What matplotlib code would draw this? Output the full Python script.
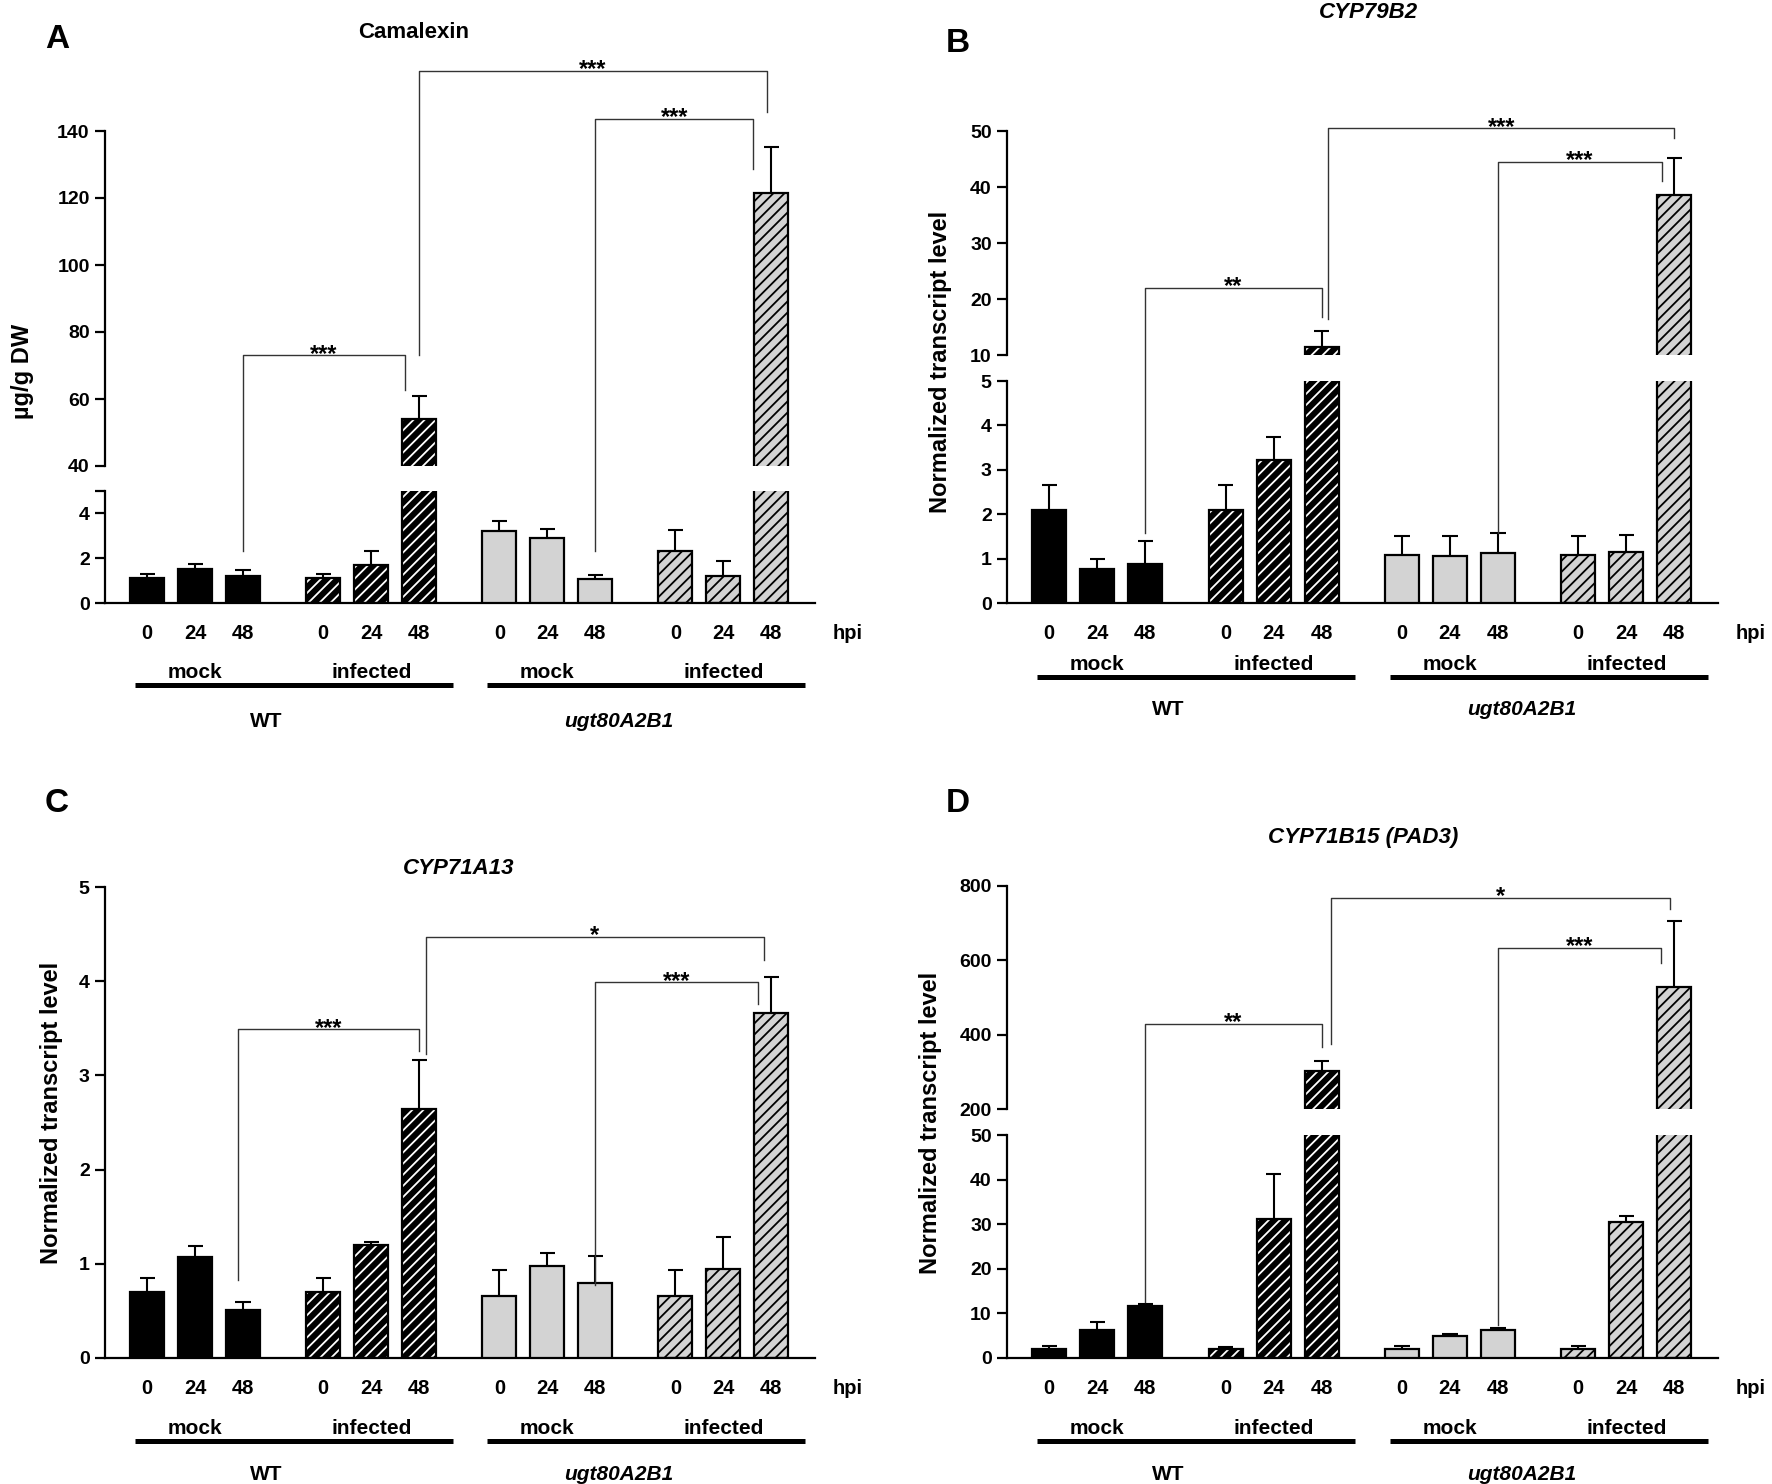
import matplotlib
matplotlib.use('Agg')
import matplotlib.pyplot as plt
from matplotlib.lines import Line2D
from matplotlib.transforms import offset_copy
import numpy as np

plt.rcParams['font.family'] = ['Liberation Sans', 'DejaVu Sans']
plt.rcParams['font.weight'] = 'bold'
plt.rcParams['hatch.linewidth'] = 1.3
plt.rcParams['axes.linewidth'] = 1.6

# bar order: WT mock 0/24/48, WT infected 0/24/48, ugt mock 0/24/48, ugt infected 0/24/48
hours = ['0', '24', '48']
treatments = ['mock', 'infected']
genotypes = ['WT', 'ugt80A2B1']

camalexin = [1.13, 1.50, 1.20, 1.10, 1.68, 53.9, 3.23, 2.90, 1.08, 2.30, 1.21, 121.6]
camalexin_sd = [0.15, 0.24, 0.27, 0.18, 0.62, 7.0, 0.43, 0.42, 0.15, 0.98, 0.66, 13.7]

cyp79b2 = [2.09, 0.76, 0.88, 2.09, 3.22, 11.5, 1.07, 1.05, 1.13, 1.07, 1.15, 38.5]
cyp79b2_sd = [0.56, 0.23, 0.51, 0.56, 0.53, 2.7, 0.43, 0.45, 0.45, 0.43, 0.39, 6.6]

cyp71a13 = [0.70, 1.07, 0.51, 0.70, 1.20, 2.64, 0.66, 0.98, 0.80, 0.66, 0.94, 3.66]
cyp71a13_sd = [0.15, 0.12, 0.08, 0.15, 0.03, 0.52, 0.27, 0.13, 0.28, 0.27, 0.34, 0.38]

pad3 = [2.1, 6.2, 11.7, 2.0, 31.1, 302, 2.1, 5.0, 6.2, 2.1, 30.6, 528]
pad3_sd = [0.6, 1.8, 0.3, 0.5, 10.2, 28, 0.5, 0.4, 0.5, 0.5, 1.3, 178]

# significance brackets: (left bar, dx, leg bottom, right bar, dx, leg bottom, top, label)
brackets_a = [(2, 0.0, 2.3, 5, -0.3, 62.7, 73, '***'),
              (5, 0.0, 73, 11, -0.1, 145.7, 158, '***'),
              (8, 0.0, 2.3, 11, -0.38, 128.7, 143.6, '***')]
brackets_b = [(2, 0.0, 1.58, 5, 0.0, 16.8, 22.0, '**'),
              (5, 0.14, 16.4, 11, 0.0, 48.75, 50.5, '***'),
              (8, 0.0, 1.58, 11, -0.26, 41.1, 44.5, '***')]
brackets_c = [(2, -0.1, 0.83, 5, 0.0, 3.26, 3.49, '***'),
              (5, 0.14, 3.23, 11, -0.16, 4.22, 4.47, '*'),
              (8, 0.0, 0.78, 11, -0.28, 3.76, 3.99, '***')]
brackets_d = [(2, 0.0, 12.5, 5, 0.0, 368, 430, '**'),
              (5, 0.2, 375, 11, -0.08, 739, 768, '*'),
              (8, 0.0, 7.5, 11, -0.28, 592, 634, '***')]

W, H = 1772, 1484
fig = plt.figure(figsize=(W / 100, H / 100), dpi=100)


def box(x0, x1, y0, y1):
    return [x0 / W, 1 - y1 / H, (x1 - x0) / W, (y1 - y0) / H]


pos = np.array([g * 3.67 + i for g in range(4) for i in range(3)])
faces = ['black', 'black', '#d3d3d3', '#d3d3d3']
hatch_cols = [None, 'white', None, 'black']
width = 0.71


def draw_bars(ax, vals, sds):
    vals = np.array(vals)
    sds = np.array(sds)
    for g in range(4):
        x = pos[3 * g:3 * g + 3]
        v = vals[3 * g:3 * g + 3]
        if hatch_cols[g]:
            ax.bar(x, v, width, color=faces[g], edgecolor=hatch_cols[g],
                   hatch='///', linewidth=0, zorder=2)
            ax.bar(x, v, width, fill=False, edgecolor='black', linewidth=1.6, zorder=3)
        else:
            ax.bar(x, v, width, color=faces[g], edgecolor='black', linewidth=1.6, zorder=3)
    ax.vlines(pos, vals, vals + sds, color='black', lw=1.5, zorder=4)
    ax.hlines(vals + sds, pos - 0.16, pos + 0.16, color='black', lw=1.5, zorder=4)


panels = [
    dict(letter='A', letter_xy=(57, 40), title='Camalexin', italic=False, title_xy=(414, 33),
         ylabel='µg/g DW', ylabel_xy=(23, 371), x0=105, x1=815,
         segs=[(131, 466, (40, 140), [40, 60, 80, 100, 120, 140], None),
               (491, 603, (0, 5), [0, 2, 4, 5], ['0', '2', '4', ''])],
         vals=camalexin, sd=camalexin_sd, brackets=brackets_a, under=(69, 82, 118)),
    dict(letter='B', letter_xy=(958, 43), title='CYP79B2', italic=True, title_xy=(1368, 13),
         ylabel='Normalized transcript level', ylabel_xy=(940, 362), x0=1007, x1=1718,
         segs=[(131, 355, (10, 50), [10, 20, 30, 40, 50], None),
               (381, 603, (0, 5), [0, 1, 2, 3, 4, 5], None)],
         vals=cyp79b2, sd=cyp79b2_sd, brackets=brackets_b, under=(61, 74, 106)),
    dict(letter='C', letter_xy=(57, 804), title='CYP71A13', italic=True, title_xy=(459, 868),
         ylabel='Normalized transcript level', ylabel_xy=(52, 1113), x0=105, x1=815,
         segs=[(887, 1358, (0, 5), [0, 1, 2, 3, 4, 5], None)],
         vals=cyp71a13, sd=cyp71a13_sd, brackets=brackets_c, under=(70, 83, 117)),
    dict(letter='D', letter_xy=(958, 804), title='CYP71B15 (PAD3)', italic=True, title_xy=(1363, 837),
         ylabel='Normalized transcript level', ylabel_xy=(931, 1123), x0=1007, x1=1718,
         segs=[(886, 1109, (200, 800), [200, 400, 600, 800], None),
               (1135, 1358, (0, 50), [0, 10, 20, 30, 40, 50], None)],
         vals=pad3, sd=pad3_sd, brackets=brackets_d, under=(70, 83, 117)),
]

to_pt = 0.72
for p in panels:
    axes = []
    nseg = len(p['segs'])
    for k, (y0, y1, ylim, ticks, labels) in enumerate(p['segs']):
        ax = fig.add_axes(box(p['x0'], p['x1'], y0, y1))
        draw_bars(ax, p['vals'], p['sd'])
        ax.set_xlim(-0.88, 13.92)
        ax.set_ylim(*ylim)
        ax.set_yticks(ticks)
        if labels is not None:
            ax.set_yticklabels(labels)
        ax.spines['top'].set_visible(False)
        ax.spines['right'].set_visible(False)
        ax.tick_params(axis='y', direction='out', length=7, width=1.6, labelsize=14, pad=4)
        if k < nseg - 1:
            ax.spines['bottom'].set_visible(False)
            ax.set_xticks([])
        axes.append(ax)

    low = axes[-1]
    low.set_xticks(pos, hours * 4)
    low.tick_params(axis='x', length=0, labelsize=14.5, pad=15)
    low.annotate('hpi', xy=(14.6, 0), xycoords=('data', 'axes fraction'),
                 xytext=(0, -15), textcoords='offset points',
                 ha='center', va='top', fontsize=14.5, annotation_clip=False)
    off_t, off_line, off_g = p['under']
    for gi in range(2):
        for ti in range(2):
            grp = gi * 2 + ti
            low.annotate(treatments[ti], xy=(pos[3 * grp + 1], 0),
                         xycoords=('data', 'axes fraction'),
                         xytext=(0, -off_t * to_pt), textcoords='offset points',
                         ha='center', va='center', fontsize=15, annotation_clip=False)
        xa = pos[6 * gi] - 0.25
        xb = pos[6 * gi + 5] + 0.7
        tr = offset_copy(low.get_xaxis_transform(), fig=fig, y=-off_line, units='dots')
        low.plot([xa, xb], [0, 0], color='black', lw=3.6, transform=tr,
                 clip_on=False, solid_capstyle='butt')
        low.annotate(genotypes[gi], xy=((pos[6 * gi] + pos[6 * gi + 5]) / 2 - 0.35, 0),
                     xycoords=('data', 'axes fraction'),
                     xytext=(0, -off_g * to_pt), textcoords='offset points',
                     ha='center', va='center', fontsize=15, annotation_clip=False,
                     style='italic' if gi == 1 else 'normal')

    inv = fig.transFigure.inverted()

    def to_fig(x, y):
        ax = axes[-1] if (len(axes) == 1 or y <= axes[-1].get_ylim()[1]) else axes[0]
        return inv.transform(ax.transData.transform((x, y)))

    for li, ldx, lb, ri, rdx, rb, top, lab in p['brackets']:
        xl = pos[li] + ldx
        xr = pos[ri] + rdx
        pts = [to_fig(xl, lb), to_fig(xl, top), to_fig(xr, top), to_fig(xr, rb)]
        ytop = pts[1][1]
        xs = [pts[0][0], pts[1][0], pts[2][0], pts[3][0]]
        ys = [pts[0][1], ytop, ytop, pts[3][1]]
        fig.add_artist(Line2D(xs, ys, transform=fig.transFigure, color='#333333', lw=1.0, zorder=10))
        fig.text((xs[1] + xs[2]) / 2, ytop + 1 / H, lab, ha='center', va='center',
                 fontsize=17, zorder=11)

    lx, ly = p['letter_xy']
    fig.text(lx / W, 1 - ly / H, p['letter'], ha='center', va='center', fontsize=24)
    tx, ty = p['title_xy']
    fig.text(tx / W, 1 - ty / H, p['title'], ha='center', va='center', fontsize=16,
             style='italic' if p['italic'] else 'normal')
    yx, yy = p['ylabel_xy']
    fig.text(yx / W, 1 - yy / H, p['ylabel'], ha='center', va='center', fontsize=17, rotation=90)

fig.savefig('out.png', dpi=100)
